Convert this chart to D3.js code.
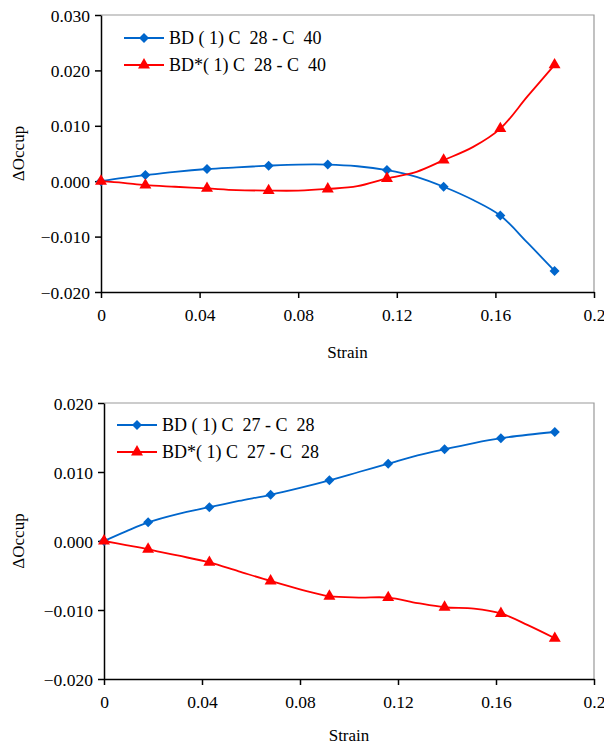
<!DOCTYPE html>
<html>
<head>
<meta charset="utf-8">
<script src="https://cdn.jsdelivr.net/npm/d3@7"></script>
<style>
  body { margin: 0; background: #fff; }
  svg text { white-space: pre; }
</style>
</head>
<body>
<div class="chart"></div>
<script>
// strain values (markers on every other point)
const strain = [0, 0.009, 0.018, 0.030, 0.043, 0.055, 0.068, 0.080, 0.092, 0.104, 0.116, 0.128, 0.139, 0.151, 0.162, 0.173, 0.184];

const bdC28C40  = [0, 0.0006, 0.0011, 0.0017, 0.0022, 0.0025, 0.0028, 0.0030, 0.0030, 0.0027, 0.0020, 0.0008, -0.0010, -0.0034, -0.0062, -0.0111, -0.0162];
const bdsC28C40 = [0, -0.0003, -0.0007, -0.0010, -0.0013, -0.0016, -0.0017, -0.0017, -0.0014, -0.0009, 0.0005, 0.0017, 0.0038, 0.0062, 0.0095, 0.0153, 0.0210];

const bdC27C28  = [0, 0.0014, 0.0027, 0.0039, 0.0049, 0.0058, 0.0067, 0.0077, 0.0088, 0.0100, 0.0112, 0.0124, 0.0133, 0.0142, 0.0149, 0.0154, 0.0158];
const bdsC27C28 = [0, -0.0006, -0.0012, -0.0021, -0.0031, -0.0044, -0.0058, -0.0070, -0.0080, -0.0082, -0.0082, -0.0090, -0.0096, -0.0098, -0.0105, -0.0122, -0.0141];

const xTicks = [0, 0.04, 0.08, 0.12, 0.16, 0.2];
const xTickLabels = ["0", "0.04", "0.08", "0.12", "0.16", "0.2"];

const FONT = "Liberation Serif, DejaVu Serif, serif";

const panels = [
  {top: 15, bottom: 292, left: 101, right: 594, yDomain: [-0.02, 0.03],
   yTicks: [-0.02, -0.01, 0, 0.01, 0.02, 0.03], legendX: 124, legendY: 38, titleY: 358,
   series: [
     {name: "BD ( 1) C  28 - C  40", values: bdC28C40, color: "#0066CC", shape: "diamond"},
     {name: "BD*( 1) C  28 - C  40", values: bdsC28C40, color: "#FF0000", shape: "triangle"}
   ]},
  {top: 403, bottom: 679, left: 104, right: 594, yDomain: [-0.02, 0.02],
   yTicks: [-0.02, -0.01, 0, 0.01, 0.02], legendX: 117, legendY: 425, titleY: 741,
   series: [
     {name: "BD ( 1) C  27 - C  28", values: bdC27C28, color: "#0066CC", shape: "diamond"},
     {name: "BD*( 1) C  27 - C  28", values: bdsC27C28, color: "#FF0000", shape: "triangle"}
   ]}
];

const svg = d3.select('.chart').append('svg')
    .attr("width", 604)
    .attr("height", 747)
    .attr("font-family", FONT);

const symbolFor = shape => shape === "diamond"
    ? d3.symbol().type(d3.symbolSquare).size(50)
    : d3.symbol().type(d3.symbolTriangle).size(62);

panels.forEach(p => {
  const xScale = d3.scaleLinear().domain([0, 0.2]).range([p.left, p.right]);
  const yScale = d3.scaleLinear().domain(p.yDomain).range([p.bottom, p.top]);

  // gray frame top / right
  svg.append("path")
    .attr("d", `M${p.left},${p.top}H${p.right}V${p.bottom}`)
    .attr("fill", "none")
    .attr("stroke", "#999")
    .attr("stroke-width", 1.2);

  const yAxis = d3.axisLeft(yScale).tickValues(p.yTicks).tickSize(6).tickSizeOuter(0)
      .tickFormat(d3.format(".3f"));
  const xAxis = d3.axisBottom(xScale).tickValues(xTicks).tickSize(6).tickSizeOuter(0)
      .tickFormat((d, i) => xTickLabels[i]);

  const gy = svg.append("g")
    .attr("transform", `translate(${p.left},0)`)
    .call(yAxis);
  const gx = svg.append("g")
    .attr("transform", `translate(0,${p.bottom})`)
    .call(xAxis);

  [gx, gy].forEach(g => {
    g.attr("font-family", FONT).attr("font-size", 17.5);
    g.selectAll("path, line").attr("stroke", "#000").attr("stroke-width", 1.5);
    g.selectAll("text").attr("fill", "#000");
  });
  gy.selectAll("text").attr("x", -11).attr("dy", "0.35em");
  gx.selectAll("text").attr("y", 17).attr("dy", "0.71em");

  // axis titles
  svg.append("text")
    .attr("transform", `translate(24,${(p.top + p.bottom) / 2}) rotate(-90)`)
    .attr("text-anchor", "middle")
    .attr("font-size", 17)
    .text("ΔOccup");

  svg.append("text")
    .attr("x", (p.left + p.right) / 2)
    .attr("y", p.titleY)
    .attr("text-anchor", "middle")
    .attr("font-size", 17)
    .text("Strain");

  const line = d3.line()
    .x((d, i) => xScale(strain[i]))
    .y(d => yScale(d))
    .curve(d3.curveCatmullRom.alpha(0.5));

  p.series.forEach((s, k) => {
    svg.append("path")
      .datum(s.values)
      .attr("d", line)
      .attr("fill", "none")
      .attr("stroke", s.color)
      .attr("stroke-width", 1.8);

    const marked = s.values.map((v, i) => [strain[i], v]).filter((d, i) => i % 2 === 0);
    svg.selectAll(null)
      .data(marked)
      .enter()
      .append("path")
      .attr("d", symbolFor(s.shape))
      .attr("transform", d => `translate(${xScale(d[0])},${yScale(d[1])})` + (s.shape === "diamond" ? " rotate(45)" : ""))
      .attr("fill", s.color);

    // legend
    const ly = p.legendY + k * 27;
    svg.append("line")
      .attr("x1", p.legendX).attr("x2", p.legendX + 40)
      .attr("y1", ly).attr("y2", ly)
      .attr("stroke", s.color).attr("stroke-width", 1.8);
    svg.append("path")
      .attr("d", symbolFor(s.shape))
      .attr("transform", `translate(${p.legendX + 20},${ly})` + (s.shape === "diamond" ? " rotate(45)" : ""))
      .attr("fill", s.color);
    svg.append("text")
      .attr("x", p.legendX + 45)
      .attr("y", ly)
      .attr("dy", "0.35em")
      .attr("font-size", 18)
      .text(s.name);
  });
});
</script>
</body>
</html>
